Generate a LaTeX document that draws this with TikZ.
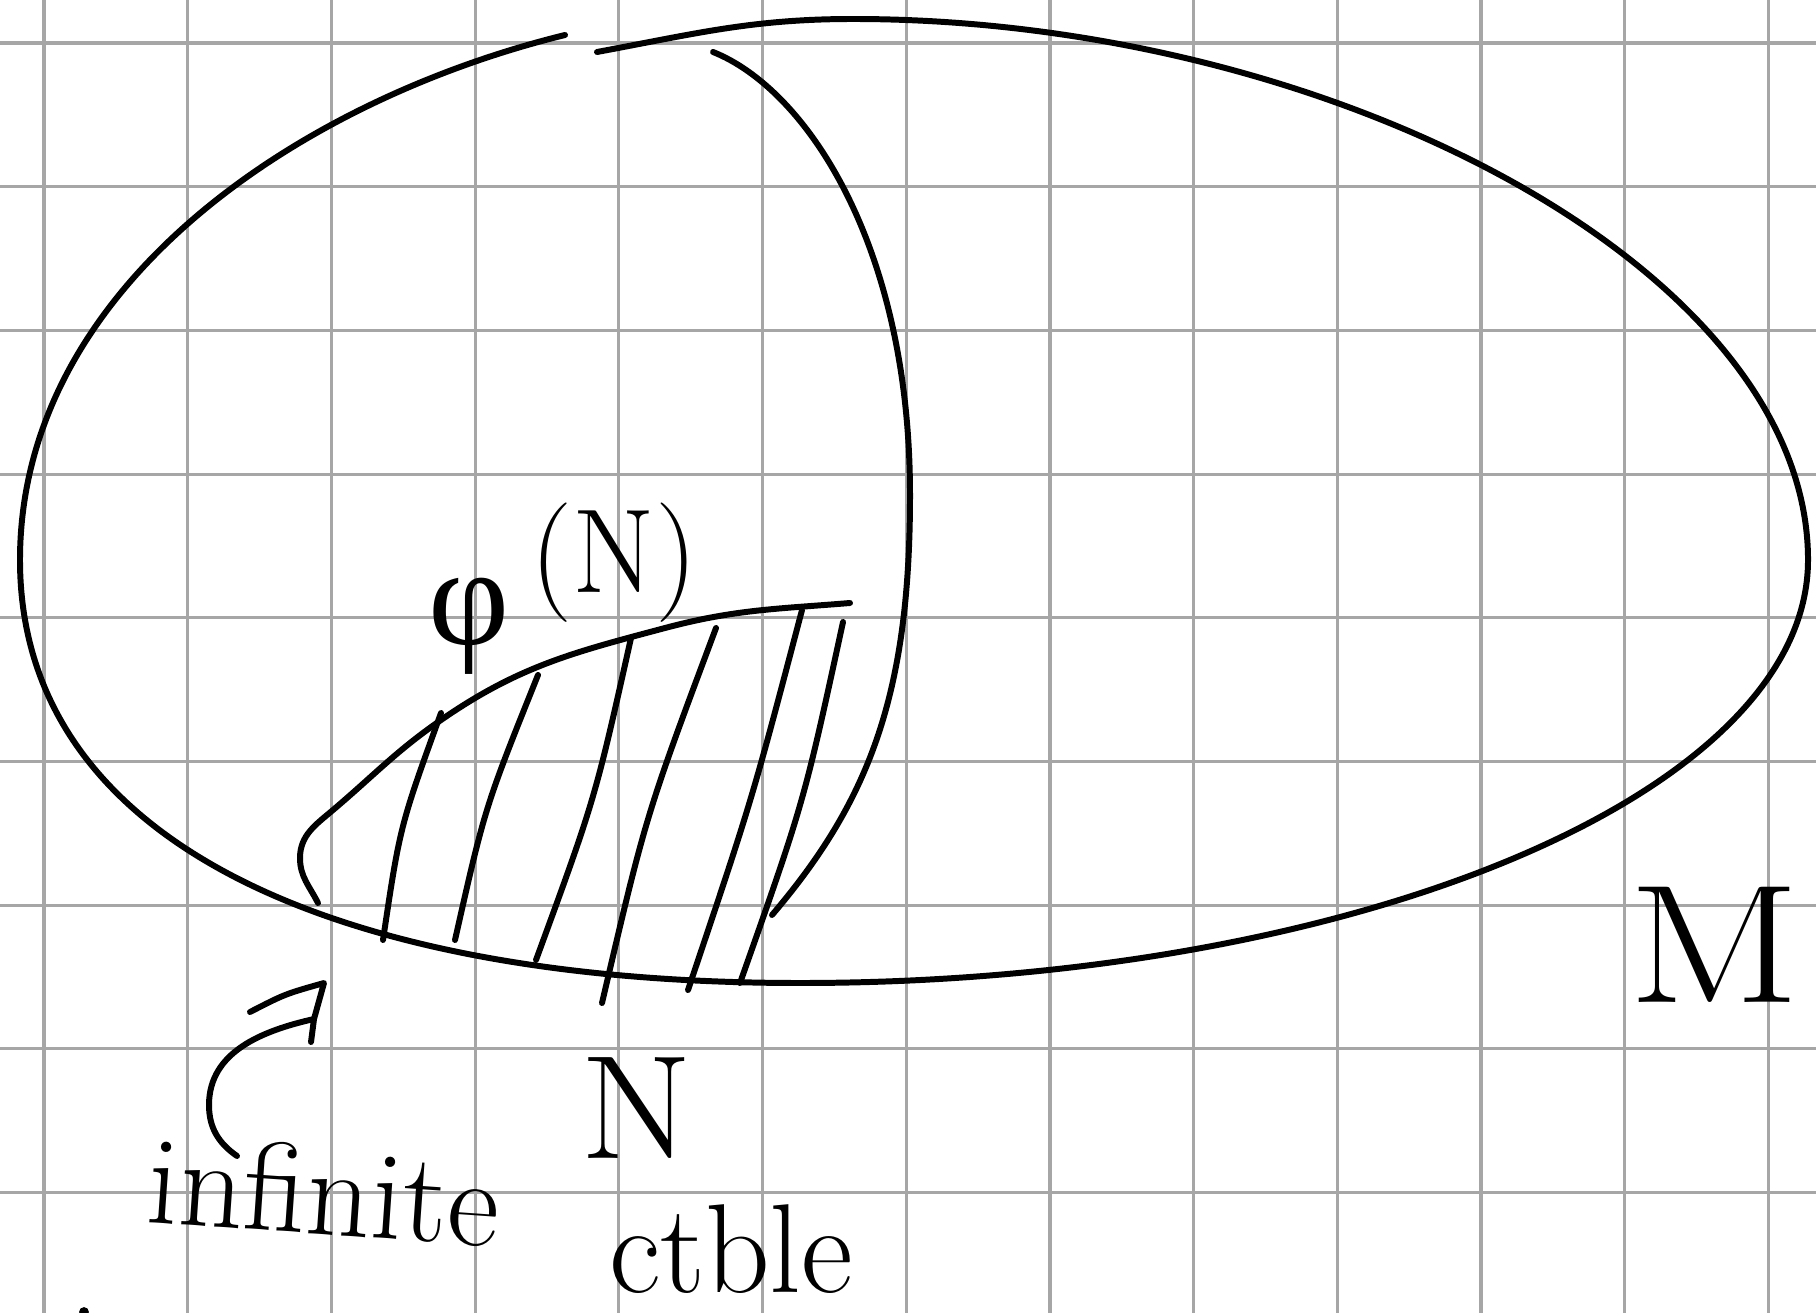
\documentclass[tikz,border=0pt]{standalone}
\usepackage{fontspec}
\newfontfamily\gkfont{Liberation Serif}
\tikzset{
  grid line/.style={black!35, line width=0.9pt},
  pen/.style={black, line width=1.7pt, line cap=round, line join=round},
  hand/.style={inner sep=0pt, font=\fontsize{34}{40}\selectfont},
}
\begin{document}
\begin{tikzpicture}[x=0.01cm,y=-0.01cm]
\useasboundingbox (0,0) rectangle (1816,1313);
\clip (0,0) rectangle (1816,1313);
\fill[white] (0,0) rectangle (1816,1313);
% grid paper
\foreach \k in {0,...,12} \draw[grid line] ({44+143.7*\k},0) -- ({44+143.7*\k},1313);
\foreach \k in {0,...,8} \draw[grid line] (0,{43+143.7*\k}) -- (1816,{43+143.7*\k});
% outer manifold M (with a small break at the top)
\draw[pen] (565,35) .. controls (293,102) and (20,290) .. (20,560)
  .. controls (20,840) and (330,983) .. (800,983)
  .. controls (1356,983) and (1808,793) .. (1808,560)
  .. controls (1808,270) and (1333,19) .. (853,19)
  to[out=180,in=10.5] (597,52);
% inner cut
\draw[pen] (713,52) .. controls (806,89) and (910,245) .. (910,495)
  .. controls (910,695) and (869,801) .. (772,915);
% boundary of phi(N)
\draw[pen] (318,903) to[out=116.6,in=270] (300,858)
  to[out=90,in=220.3] (333,810)
  to[out=40.3,in=214.7] (441,720)
  to[out=34.7,in=194.9] (665,628)
  to[out=14.9,in=184.7] (850,603);
% hatching
\draw[pen] (441,713) .. controls (400,826) .. (383,940);
\draw[pen] (538,675) .. controls (485,807) .. (455,940);
\draw[pen] (631,638) .. controls (595,799) .. (536,960);
\draw[pen] (716,628) .. controls (646,815) .. (602,1003);
\draw[pen] (802,610) .. controls (752,800) .. (688,990);
\draw[pen] (843,622) .. controls (804,802) .. (740,983);
% labels
\node[hand, anchor=base] (phiN) at (563,592) {\raisebox{-15pt}{\gkfont\fontsize{40}{44}\selectfont φ}\hspace{6pt}(N)};
\node[hand, font=\fontsize{42}{48}\selectfont, xscale=1.1, anchor=base] (Nlab) at (637,1158) {N};
\node[hand, font=\fontsize{36}{42}\selectfont\addfontfeature{LetterSpace=6}, anchor=base west, rotate=-4] (inf) at (145,1222) {infinite};
\node[hand, font=\fontsize{36}{42}\selectfont, anchor=base] (ctble) at (731,1292) {ctble};
\node[hand, font=\fontsize{48}{54}\selectfont, anchor=base west, xscale=1.2] (Mlab) at (1628,1002) {M};
% arrow from "infinite" to the boundary
\coordinate (arrS) at (237,1156);
\coordinate (arrE) at (314,1019);
\coordinate (arrT) at (324,983);
\draw[pen] (arrS) to[out=145,in=270] (209,1105) to[out=90,in=192.7] (arrE);
\draw[pen] (250,1012) .. controls (285,994) .. (arrT) -- (arrE) -- (311,1042);
% tiny mark at the bottom edge
\fill (84,1312) circle[radius=1.4pt];
\end{tikzpicture}
\end{document}
